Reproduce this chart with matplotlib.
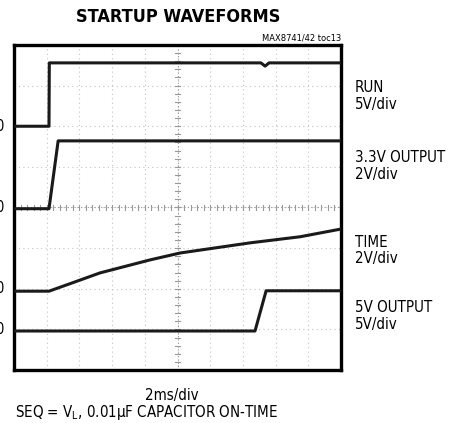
import numpy as np
import matplotlib
matplotlib.use("Agg")
import matplotlib.pyplot as plt

plt.rcParams['font.family'] = ['DejaVu Sans']
plt.rcParams['font.stretch'] = 'condensed'
plt.rcParams['mathtext.fontset'] = 'custom'
plt.rcParams['mathtext.rm'] = 'DejaVu Sans'

# traces, in divisions (x: 0..10, y: 0..8)
run_t = [0, 1.07, 1.08, 7.55, 7.68, 7.8, 10]
run_v = [6.0, 6.0, 7.56, 7.56, 7.48, 7.56, 7.56]

out33_t = [0, 1.07, 1.35, 10]
out33_v = [3.97, 3.97, 5.64, 5.64]

time_t = [0, 1.07, 1.87, 2.63, 4.16, 5.08, 7.22, 8.75, 10]
time_v = [1.94, 1.94, 2.17, 2.39, 2.71, 2.88, 3.13, 3.28, 3.47]

out5_t = [0, 7.37, 7.71, 10]
out5_v = [0.96, 0.96, 1.95, 1.95]

ground_levels = [6, 4, 2, 1]

labels = [("RUN", "5V/div"), ("3.3V OUTPUT", "2V/div"),
          ("TIME", "2V/div"), ("5V OUTPUT", "5V/div")]
label_y = [96, 165, 250, 315]  # pixel centres of label pairs

W, H = 450, 423
fig = plt.figure(figsize=(4.5, 4.23), dpi=100)
ax = fig.add_axes([14 / W, 1 - 370 / H, 327 / W, 325 / H])
ax.set_xlim(0, 10)
ax.set_ylim(0, 8)

# graticule
for gx in range(1, 10):
    ax.axvline(gx, color='#c4c4c4', lw=0.8, ls=(0, (1, 3)), zorder=1)
for gy in range(1, 8):
    ax.axhline(gy, color='#c4c4c4', lw=0.8, ls=(0, (1, 3)), zorder=1)
ax.axvline(5, color='#999999', lw=0.8, ls=(0, (1, 2)), zorder=1)
ax.axhline(4, color='#999999', lw=0.8, ls=(0, (1, 2)), zorder=1)
for m in np.arange(0.2, 10, 0.2):
    ax.plot([m, m], [3.95, 4.05], color='#999999', lw=0.8, zorder=1)
for m in np.arange(0.2, 8, 0.2):
    ax.plot([4.93, 5.07], [m, m], color='#999999', lw=0.8, zorder=1)

for t, v in [(run_t, run_v), (out33_t, out33_v), (time_t, time_v), (out5_t, out5_v)]:
    ax.plot(t, v, color='#1a1a1a', lw=2.2, solid_joinstyle='round', zorder=3)

ax.set_xticks([])
ax.set_yticks([])
for s in ax.spines.values():
    s.set_linewidth(2.4)
    s.set_color('black')

# ground markers, cut off by the left edge as in the original
for g in ground_levels:
    yf = (1 - 370 / H) + g / 8 * 325 / H
    fig.text(4 / W, yf, "0", ha='right', va='center', fontsize=10.5)

# right labels
for (a, b), yc in zip(labels, label_y):
    fig.text(355 / W, 1 - (yc - 8) / H, a, ha='left', va='center', fontsize=10.8)
    fig.text(355 / W, 1 - (yc + 9) / H, b, ha='left', va='center', fontsize=10.8)

fig.text(178 / W, 1 - 17 / H, "STARTUP WAVEFORMS", ha='center', va='center',
         fontsize=13, fontweight='bold')
fig.text(341 / W, 1 - 38 / H, "MAX8741/42 toc13", ha='right', va='center', fontsize=6.7)
fig.text(172 / W, 1 - 395 / H, "2ms/div", ha='center', va='center', fontsize=10.8)
fig.text(15 / W, 1 - 412 / H, r"SEQ = V$_\mathregular{L}$, 0.01μF CAPACITOR ON-TIME",
         ha='left', va='center', fontsize=10.8)

fig.savefig("out.png", dpi=100)
